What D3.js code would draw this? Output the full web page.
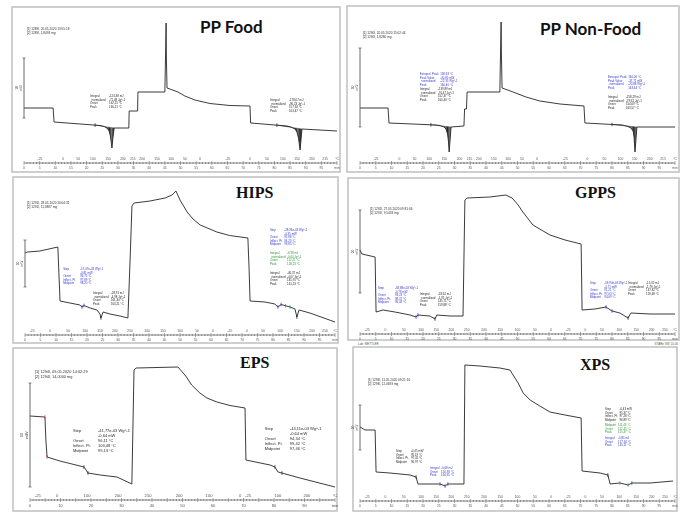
<!DOCTYPE html>
<html lang="en">
<head>
<meta charset="UTF-8">
<title>DSC thermograms of PP, HIPS, GPPS, EPS and XPS</title>
<style>
  body { margin: 0; background: #fff; }
  svg { display: block; }
  .title-sans { font-family: Lato, "Liberation Sans", sans-serif; font-weight: 700; font-size: 17px; fill: #111; }
  .title-serif { font-family: "Liberation Serif", "Times New Roman", serif; font-weight: 700; font-size: 16px; fill: #111; }
  .tiny { font-family: "Liberation Sans", Arial, sans-serif; }
</style>
</head>
<body>
<svg id="chart" width="686" height="512"></svg>
<script src="https://d3js.org/d3.v7.min.js"></script>
<script>
// heat flow curves: [time (min), heat flow (mW, arbitrary offset)]
const ppFoodCurve = [
  [0,4.7],[9.3,4.7],[9.6,3.3],[24.3,2.95],[25.6,2.85],[26.5,2.7],[27.2,2.4],[27.6,1.9],[27.9,1.2],[28.1,0.7],
  [28.4,1.7],[28.8,2.7],[33.5,2.7],[33.6,4.4],[36.3,4.4],[36.4,6.3],[45.0,6.3],[45.2,9.5],[45.4,13.2],[45.5,9.5],
  [45.7,6.7],[46.6,6.6],[49.2,6.3],[51.4,5.9],[54.6,5.5],[59.4,5.15],[65.8,4.95],[72.2,4.9],[72.4,3.2],[84.0,2.9],
  [85.3,2.8],[86.6,2.6],[87.2,2.3],[87.7,1.7],[88.0,1.0],[88.2,0.5],[88.5,1.5],[88.8,2.6],[100,2.4]
];
const ppNonFoodCurve = [
  [0,4.7],[8.9,4.7],[9.2,3.2],[24.1,3.0],[25.4,2.95],[26.7,2.8],[27.3,2.6],[27.8,2.1],[28.1,1.3],[28.3,0.3],
  [28.6,1.5],[28.9,2.8],[33.0,2.9],[33.2,4.6],[33.8,4.6],[34.0,6.3],[44.4,6.3],[44.6,10.0],[44.8,13.3],[44.9,10.0],
  [45.1,6.7],[46.0,6.6],[48.6,6.3],[52.7,5.8],[57.1,5.4],[63.5,5.1],[71.1,4.9],[71.4,3.2],[83.2,3.0],[85.1,2.85],
  [86.0,2.7],[86.7,2.4],[87.0,1.8],[87.3,0.3],[87.6,1.5],[87.9,2.8],[100,2.8]
];
const hipsCurve = [
  [0,7.2],[0.8,7.3],[4.8,7.4],[10.6,7.8],[11.3,2.4],[14.5,2.2],[17.7,2.0],[18.4,1.8],[19.0,1.95],[21.0,1.7],
  [23.2,1.5],[24.2,1.1],[24.5,0.7],[25.2,1.3],[27.4,1.1],[30.6,0.9],[33.2,0.7],[33.9,6.5],[34.5,11.9],[35.2,12.2],
  [40.3,12.4],[45.2,12.7],[47.4,13.0],[48.7,13.4],[50.0,12.5],[52.3,11.3],[54.2,10.6],[56.5,10.0],[61.9,9.3],[66.0,8.95],
  [71.9,8.7],[72.3,5.5],[72.6,2.4],[77.4,2.3],[80.6,2.1],[81.6,1.8],[82.6,2.05],[85.5,1.8],[87.1,1.6],[87.7,0.8],
  [88.4,1.5],[91.9,1.2],[100,0.3]
];
const gppsCurve = [
  [0,7.5],[0.6,7.1],[4.8,6.8],[5.1,1.3],[7.3,1.5],[11.1,1.3],[15.9,1.0],[17.8,0.8],[18.4,1.0],[22.2,0.9],
  [23.8,0.6],[24.4,1.0],[28.6,0.9],[32.7,0.9],[33.3,12.5],[34.0,12.7],[41.3,12.8],[46.3,13.0],[48.3,12.7],[50.2,12.0],
  [51.7,11.3],[54.9,10.0],[60.3,9.0],[65.1,8.5],[70.2,8.1],[70.5,1.5],[74.6,1.6],[78.1,1.8],[80.0,1.4],[82.5,1.2],
  [85.1,0.7],[86.0,1.2],[92.1,1.1],[100,1.1]
];
const epsCurve = [
  [0,7.9],[4.9,7.8],[5.2,5.5],[5.6,3.8],[9.8,3.4],[16.4,2.9],[17.7,2.8],[18.4,2.5],[19.0,2.2],[23.0,2.0],
  [28.5,1.8],[33.4,1.1],[34.1,12.5],[34.8,12.7],[48.5,12.8],[50.5,12.1],[51.3,11.8],[53.0,11.0],[55.7,10.2],[58.0,9.7],
  [61.3,9.3],[65.6,8.95],[70.5,8.7],[70.8,3.5],[78.7,3.0],[80.3,2.8],[81.3,2.3],[82.6,2.2],[88.5,1.7],[100,0.8]
];
const xpsCurve = [
  [0,6.8],[1.6,6.5],[4.8,6.5],[5.1,2.3],[9.5,2.2],[15.9,2.0],[17.8,1.8],[18.4,1.1],[25.4,1.1],[27.0,0.9],
  [27.9,1.1],[33.0,1.1],[33.3,13.0],[38.1,12.9],[44.4,12.7],[47.6,12.5],[50.2,11.2],[51.8,10.2],[54.0,9.5],[57.1,8.9],
  [60.3,8.3],[65.1,8.0],[70.2,7.7],[70.5,2.4],[76.2,2.2],[78.7,2.0],[79.4,1.1],[82.5,1.2],[85.1,1.0],[86.3,1.2],
  [92.1,1.2],[99.4,1.4]
];

// integrated melting peaks [start, end] (min)
const ppFoodPeaks = [[22.7, 28.9], [80.8, 88.8]];
const ppNonFoodPeaks = [[22.5, 28.9], [80.0, 87.9]];

// scale bars [low, high] (mW)
const ppFoodBar = [3.7, 9.7];
const ppNonFoodBar = [2.8, 10.7];
const hipsBar = [3.8, 8.5];
const gppsBar = [3.2, 11.5];
const epsBar = [0.8, 11.2];
const xpsBar = [4.5, 9.0];

// axis labels: temperature row [time, label] and time row
const ppTempTicks = [[5.1,"-25"],[12.5,"0"],[17.3,"50"],[22.0,"100"],[26.8,"150"],[31.6,"200"],[34.8,"215"],[37.7,"200"],
  [42.5,"150"],[47.0,"100"],[51.4,"50"],[56.2,"0"],[65.2,"-25"],[72.2,"0"],[77.6,"50"],[82.7,"100"],[87.2,"150"],
  [92.0,"200"],[96.2,"215"],[100,"°C"]];
const psTempTicks = [[2.3,"-25"],[8.1,"0"],[13.9,"50"],[19.4,"100"],[24.2,"150"],[29.0,"200"],[33.9,"250"],[39.4,"200"],
  [44.5,"150"],[50.0,"100"],[55.5,"50"],[60.6,"0"],[66.1,"-25"],[71.6,"0"],[76.8,"50"],[82.3,"100"],[87.7,"150"],
  [92.6,"200"],[96.8,"250"],[100,"°C"]];
const epsTempTicks = [[2.6,"-25"],[8.9,"0"],[18.7,"100"],[28.9,"200"],[38.7,"250"],[48.9,"200"],[58.7,"100"],
  [68.9,"0"],[71.5,"-25"],[81.3,"100"],[90.8,"200"],[100,"°C"]];
const fineTimeTicks = [[0,"0"],[5,"5"],[10,"10"],[15,"15"],[20,"20"],[25,"25"],[30,"30"],[35,"35"],[40,"40"],[45,"45"],
  [50,"50"],[55,"55"],[60,"60"],[65,"65"],[70,"70"],[75,"75"],[80,"80"],[85,"85"],[90,"90"],[95,"95"],[100,"min"]];
const coarseTimeTicks = [[0,"0"],[10,"10"],[20,"20"],[30,"30"],[40,"40"],[50,"50"],[60,"60"],[70,"70"],[80,"80"],
  [90,"90"],[100,"min"]];

// evaluation boxes (rows beginning with "  " are indented sub-lines)
const blue = "#3b3bd0", green = "#2f9a3c", black = "#2a2a2a", red = "#d03030";
const ppFoodNotes = [
  { t: 21.1, v: 6.0, color: black, dx: 19, rows: [["Integral","-124,38 mJ"],["  normalized","-71,08 Jg^-1"],["Onset","162,15 °C"],["Peak","166,21 °C"]] },
  { t: 78.6, v: 5.6, color: black, dx: 19, rows: [["Integral","-178,07 mJ"],["  normalized","-96,23 Jg^-1"],["Onset","157,34 °C"],["Peak","163,47 °C"]] }
];
const ppNonFoodNotes = [
  { t: 19.0, v: 8.2, color: blue, dx: 18, rows: [["Extrapol. Peak","158,63 °C"],["Peak Value","-40,85 mW"],["  normalized","-22,35 Wg^-1"],["Peak","160,40 °C"]] },
  { t: 19.0, v: 6.7, color: black, dx: 18, rows: [["Integral","-139,89 mJ"],["  normalized","-76,47 Jg^-1"],["Onset","152,37 °C"],["Peak","160,40 °C"]] },
  { t: 78.7, v: 7.9, color: blue, dx: 18, rows: [["Extrapol. Peak","160,06 °C"],["Peak Value","-37,71 mW"],["  normalized","-20,88 Wg^-1"],["Peak","163,64 °C"]] },
  { t: 78.7, v: 5.9, color: black, dx: 18, rows: [["Integral","-158,29 mJ"],["  normalized","-79,62 Jg^-1"],["Onset","154,09 °C"],["Peak","163,57 °C"]] }
];
const hipsNotes = [
  { t: 12.3, v: 5.7, color: blue, dx: 17, rows: [["Step","-57,47e-03 Wg^-1"],["","-0,81 mW"],["Onset","96,75 °C"],["Inflect. Pt.","97,89 °C"],["Midpoint","98,20 °C"]] },
  { t: 21.9, v: 3.3, color: black, dx: 18, rows: [["Integral","-28,91 mJ"],["  normalized","-4,98 Jg^-1"],["Onset","161,34 °C"],["Peak","163,21 °C"]] },
  { t: 79.0, v: 9.6, color: blue, dx: 13, rows: [["Step","-28,96e-03 Wg^-1"],["","-0,35 mW"],["Onset","91,88 °C"],["Inflect. Pt.","94,23 °C"],["Midpoint","93,85 °C"]] },
  { t: 79.0, v: 7.3, color: green, dx: 13, rows: [["Integral","-6,98 mJ"],["  normalized","-0,64 Jg^-1"],["Onset","112,21 °C"],["Peak","128,23 °C"]] },
  { t: 79.0, v: 5.3, color: black, dx: 13, rows: [["Integral","-46,37 mJ"],["  normalized","-4,07 Jg^-1"],["Onset","145,91 °C"],["Peak","161,23 °C"]] }
];
const gppsNotes = [
  { t: 5.7, v: 3.8, color: blue, dx: 17, rows: [["Step","-58,88e-03 Wg^-1"],["","-0,78 mW"],["Onset","93,23 °C"],["Inflect. Pt.","98,22 °C"],["Midpoint","96,43 °C"]] },
  { t: 19.0, v: 3.2, color: black, dx: 18, rows: [["Integral","-18,62 mJ"],["  normalized","-1,95 Jg^-1"],["Onset","145,71 °C"],["Peak","159,88 °C"]] },
  { t: 73.0, v: 4.3, color: blue, dx: 14, rows: [["Step","-59,94e-03 Wg^-1"],["","-0,71 mW"],["Onset","91,21 °C"],["Inflect. Pt.","97,03 °C"],["Midpoint","94,09 °C"]] },
  { t: 85.1, v: 4.3, color: black, dx: 18, rows: [["Integral","-15,32 mJ"],["  normalized","-1,79 Jg^-1"],["Onset","147,82 °C"],["Peak","159,48 °C"]] }
];
const epsNotes = [
  { t: 14.1, v: 6.6, color: black, dx: 25, rows: [["Step","-41,77e-03 Wg^-1"],["","-0,64 mW"],["Onset","96,11 °C"],["Inflect. Pt.","103,48 °C"],["Midpoint","99,13 °C"]] },
  { t: 77.0, v: 6.8, color: black, dx: 25, rows: [["Step","-44,11e-03 Wg^-1"],["","-0,64 mW"],["Onset","94,34 °C"],["Inflect. Pt.","99,42 °C"],["Midpoint","97,46 °C"]] }
];
const xpsNotes = [
  { t: 11.4, v: 4.5, color: black, dx: 15, rows: [["Step","-0,45 mW"],["Onset","95,19 °C"],["Inflect. Pt.","97,42 °C"],["Midpoint","96,97 °C"]] },
  { t: 22.2, v: 2.8, color: blue, dx: 10, rows: [["Integral","-0,68 mJ"],["Onset","150,93 °C"],["Peak","164,35 °C"]] },
  { t: 77.8, v: 8.7, color: black, dx: 13, rows: [["Step","-0,43 mW"],["Onset","95,37 °C"],["Inflect. Pt.","97,28 °C"],["Midpoint","96,89 °C"]] },
  { t: 77.8, v: 7.1, color: green, dx: 13, rows: [["Midpoint","111,43 °C"],["Onset","112,45 °C"],["Peak","115,37 °C"]] },
  { t: 77.8, v: 5.8, color: blue, dx: 13, rows: [["Integral","-0,85 mJ"],["Onset","157,34 °C"],["Peak","165,11 °C"]] }
];

// little evaluation limit marks on the curves [time, colour]
const ppFoodMarks = [[22.7,black],[80.8,black]];
const ppNonFoodMarks = [[22.5,black],[80.0,black]];
const hipsMarks = [[18.4,blue],[19.0,blue],[24.5,black],[81.6,blue],[82.6,blue],[84.0,green],[85.5,green],[87.7,black]];
const gppsMarks = [[17.8,blue],[18.4,blue],[23.8,black],[78.1,blue],[80.0,blue],[85.1,black]];
const epsMarks = [[4.9,red],[5.6,red],[17.7,black],[19.0,black],[80.3,black],[82.6,black]];
const xpsMarks = [[17.8,black],[25.4,blue],[27.0,blue],[27.9,blue],[78.7,black],[82.5,green],[85.1,green],[86.3,blue]];

const headers = [
  ["[1] 1289l, 20.05.2020 13:55:18", "[2] 1289l, 1,8493 mg"],
  ["[1] 1290l, 20.05.2020 15:02:44", "[2] 1290l, 1,8280 mg"],
  ["[1] 1291l, 28.05.2020 10:04:31", "[2] 1291l, 11,3887 mg"],
  ["[1] 1292l, 27.05.2020 09:31:06", "[2] 1292l, 9,5433 mg"],
  ["[1] 1294l, 09.05.2020 14:02:29", "[2] 1294l, 14,0000 mg"],
  ["[1] 1293l, 11.05.2020 09:21:16", "[2] 1293l, 12,0693 mg"]
];

// panel layout (pixels)
const panels = [
  { title: "PP Food", font: "sans", tx: 200, ty: 33, frame: [12, 7, 340, 172], xr: [24, 337], base: 155, ruler: 163, hx: 27, hy: 30,
    curve: ppFoodCurve, peaks: ppFoodPeaks, bar: ppFoodBar, notes: ppFoodNotes, marks: ppFoodMarks, temp: ppTempTicks, time: fineTimeTicks, fs: 3.3, nfs: 2.9, header: headers[0] },
  { title: "PP Non-Food", font: "sans", tx: 540, ty: 35, frame: [347, 6, 679, 172], xr: [360, 675], base: 155, ruler: 163, hx: 363, hy: 34,
    curve: ppNonFoodCurve, peaks: ppNonFoodPeaks, bar: ppNonFoodBar, notes: ppNonFoodNotes, marks: ppNonFoodMarks, temp: ppTempTicks, time: fineTimeTicks, fs: 3.3, nfs: 2.9, header: headers[1] },
  { title: "HIPS", font: "serif", tx: 236, ty: 198, frame: [13, 177, 338, 343], xr: [25, 335], base: 325, ruler: 335, hx: 27, hy: 204,
    curve: hipsCurve, peaks: [], bar: hipsBar, notes: hipsNotes, marks: hipsMarks, temp: psTempTicks, time: fineTimeTicks, fs: 3.3, nfs: 2.9, header: headers[2] },
  { title: "GPPS", font: "serif", tx: 575, ty: 198, frame: [348, 178, 679, 340], xr: [360, 675], base: 325, ruler: 334, hx: 370, hy: 210,
    curve: gppsCurve, peaks: [], bar: gppsBar, notes: gppsNotes, marks: gppsMarks, temp: psTempTicks, time: fineTimeTicks, fs: 3.3, nfs: 2.9, header: headers[3] },
  { title: "EPS", font: "serif", tx: 240, ty: 368, frame: [13, 348, 337, 511], xr: [30, 335], base: 495, ruler: 500, hx: 35, hy: 373,
    curve: epsCurve, peaks: [], bar: epsBar, notes: epsNotes, marks: epsMarks, temp: epsTempTicks, time: coarseTimeTicks, fs: 4.1, nfs: 4.0, header: headers[4] },
  { title: "XPS", font: "serif", tx: 580, ty: 370, frame: [353, 347, 677, 511], xr: [360, 675], base: 495, ruler: 501, hx: 368, hy: 381,
    curve: xpsCurve, peaks: [], bar: xpsBar, notes: xpsNotes, marks: xpsMarks, temp: psTempTicks, time: fineTimeTicks, fs: 3.3, nfs: 2.9, header: headers[5] }
];

const svg = d3.select("#chart");
const defs = svg.append("defs");
defs.append("filter").attr("id", "soft")
  .append("feGaussianBlur").attr("stdDeviation", 0.3);
const hatch = defs.append("pattern").attr("id", "hatch")
  .attr("patternUnits", "userSpaceOnUse").attr("width", 1.3).attr("height", 4);
hatch.append("rect").attr("width", 1.3).attr("height", 4).attr("fill", "#8a8a8a");
hatch.append("line").attr("x1", 0.4).attr("x2", 0.4).attr("y1", 0).attr("y2", 4)
  .attr("stroke", "#1e1e1e").attr("stroke-width", 0.7);

// linear lookup on a curve, used for the integration baseline
function valueAt(curve, t) {
  const i = d3.bisector(d => d[0]).left(curve, t);
  if (i <= 0) return curve[0][1];
  if (i >= curve.length) return curve[curve.length - 1][1];
  const a = curve[i - 1], b = curve[i];
  return a[1] + (b[1] - a[1]) * (t - a[0]) / (b[0] - a[0]);
}

panels.forEach(p => {
  const g = svg.append("g");
  const [fx0, fy0, fx1, fy1] = p.frame;

  g.append("rect")
    .attr("x", fx0).attr("y", fy0)
    .attr("width", fx1 - fx0).attr("height", fy1 - fy0)
    .attr("fill", "#fff").attr("stroke", "#c4c4c4").attr("stroke-width", 1.6);

  const x = d3.scaleLinear().domain([0, 100]).range(p.xr);
  const y = d3.scaleLinear().domain([0, 14]).range([p.base, p.base - 140]);

  const body = g.append("g").attr("filter", "url(#soft)");

  // hatched peak areas
  p.peaks.forEach(([t0, t1]) => {
    const v0 = valueAt(p.curve, t0), v1 = valueAt(p.curve, t1);
    const pts = [[t0, v0]].concat(p.curve.filter(d => d[0] > t0 && d[0] < t1), [[t1, v1]]);
    const base = t => v0 + (v1 - v0) * (t - t0) / (t1 - t0);
    body.append("path").datum(pts)
      .attr("d", d3.area().x(d => x(d[0])).y0(d => y(base(d[0]))).y1(d => y(d[1])))
      .attr("fill", "url(#hatch)");
    body.append("line")
      .attr("x1", x(t0)).attr("x2", x(t1)).attr("y1", y(v0)).attr("y2", y(v1))
      .attr("stroke", "#444").attr("stroke-width", 0.5);
  });

  // heat flow curve
  body.append("path").datum(p.curve)
    .attr("d", d3.line().x(d => x(d[0])).y(d => y(d[1])))
    .attr("fill", "none").attr("stroke", "#262626").attr("stroke-width", 0.9)
    .attr("stroke-linejoin", "round");

  // evaluation marks
  body.selectAll(".mark").data(p.marks).join("line")
    .attr("x1", d => x(d[0])).attr("x2", d => x(d[0]))
    .attr("y1", d => y(valueAt(p.curve, d[0])) - 1.8)
    .attr("y2", d => y(valueAt(p.curve, d[0])) + 1.8)
    .attr("stroke", d => d[1]).attr("stroke-width", 0.8);

  // scale bar
  const bx = x(0);
  body.append("line").attr("x1", bx).attr("x2", bx)
    .attr("y1", y(p.bar[1])).attr("y2", y(p.bar[0]))
    .attr("stroke", "#444").attr("stroke-width", 0.8);
  [p.bar[0], p.bar[1]].forEach(v => {
    body.append("line").attr("x1", bx - 1.5).attr("x2", bx + 1.5)
      .attr("y1", y(v)).attr("y2", y(v)).attr("stroke", "#444").attr("stroke-width", 0.6);
  });
  const by = y((p.bar[0] + p.bar[1]) / 2);
  const bl = body.append("text").attr("class", "tiny")
    .attr("transform", `translate(${bx - 3},${by}) rotate(-90)`)
    .attr("text-anchor", "middle").attr("font-size", p.fs).attr("fill", "#444");
  bl.append("tspan").attr("x", 0).attr("dy", -p.fs * 0.9).text("10");
  bl.append("tspan").attr("x", 0).attr("dy", p.fs * 1.1).text("mW");

  // header
  p.header.forEach((line, i) => {
    body.append("text").attr("class", "tiny")
      .attr("x", p.hx).attr("y", p.hy + i * (p.fs + 0.4))
      .attr("font-size", p.fs * 0.95).attr("fill", "#333").text(line);
  });

  // evaluation texts: label column, then value column placed past the widest label
  p.notes.forEach(n => {
    const lh = p.nfs * 1.22;
    const top = y(n.v) + p.nfs * 0.8;
    const labels = n.rows.map((r, i) => body.append("text").attr("class", "tiny")
      .attr("x", x(n.t) + (r[0].startsWith("  ") ? 1.5 : 0)).attr("y", top + i * lh)
      .attr("font-size", p.nfs).attr("fill", n.color).text(r[0].trim()));
    const widest = d3.max(labels, l => l.node().getComputedTextLength() + (+l.attr("x") - x(n.t)));
    const vx = x(n.t) + Math.max(n.dx, widest + 1.5);
    n.rows.forEach((r, i) => {
      body.append("text").attr("class", "tiny")
        .attr("x", vx).attr("y", top + i * lh)
        .attr("font-size", p.nfs).attr("fill", n.color).text(r[1]);
    });
  });

  // double ruler axis: temperature above, time below
  const ax = body.append("g");
  ax.append("line").attr("x1", x(0)).attr("x2", x(100))
    .attr("y1", p.ruler).attr("y2", p.ruler)
    .attr("stroke", "#555").attr("stroke-width", 0.7);
  ax.selectAll(".minor").data(d3.range(0, 101)).join("line")
    .attr("x1", d => x(d)).attr("x2", d => x(d))
    .attr("y1", d => p.ruler - (d % 5 === 0 ? 2 : 1))
    .attr("y2", d => p.ruler + (d % 5 === 0 ? 2 : 1))
    .attr("stroke", "#555").attr("stroke-width", 0.5);
  ax.selectAll(".tl").data(p.temp).join("text").attr("class", "tiny")
    .attr("x", d => x(d[0])).attr("y", p.ruler - 3)
    .attr("text-anchor", "middle").attr("font-size", p.fs).attr("fill", "#555")
    .text(d => d[1]);
  ax.selectAll(".bl").data(p.time).join("text").attr("class", "tiny")
    .attr("x", d => x(d[0])).attr("y", p.ruler + 3 + p.fs)
    .attr("text-anchor", "middle").attr("font-size", p.fs).attr("fill", "#555")
    .text(d => d[1]);

  // panel title
  g.append("text")
    .attr("class", p.font === "sans" ? "title-sans" : "title-serif")
    .attr("x", p.tx).attr("y", p.ty)
    .text(p.title);
});

// software footer under the GPPS panel
svg.append("text").attr("class", "tiny").attr("x", 358).attr("y", 344.5)
  .attr("font-size", 3).attr("fill", "#555").text("Lab: METTLER");
svg.append("text").attr("class", "tiny").attr("x", 678).attr("y", 344.5)
  .attr("text-anchor", "end").attr("font-size", 3).attr("fill", "#555").text("STARe SW 10.00");
</script>
</body>
</html>
